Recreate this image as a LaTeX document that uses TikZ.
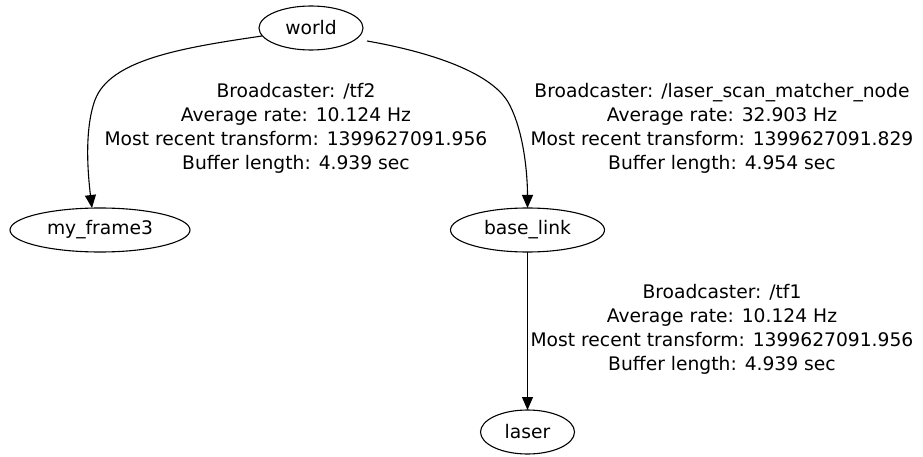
\documentclass[tikz,border=0pt]{standalone}
\usepackage{fontspec}
\setmainfont{DejaVu Sans}
\usetikzlibrary{arrows.meta}
\begin{document}
\begin{tikzpicture}[x=1pt,y=-1pt,
  outline/.style={line width=1.1pt},
  edge/.style={draw,line width=1.1pt,-{Triangle[length=13pt,width=11pt]}},
  info/.style={align=center,font=\fontsize{18.7}{24}\selectfont,inner sep=0pt},
  nodetext/.style={font=\fontsize{18.7}{24}\selectfont}]
\useasboundingbox (0,0) rectangle (923,457);
\fill[white] (0,0) rectangle (923,457);

% frames
\draw[outline] (311,28) ellipse [x radius=52, y radius=22];
\node[nodetext] (world) at (311,28) {world};
\draw[outline] (100,230) ellipse [x radius=90, y radius=22];
\node[nodetext] (myframe) at (100,230) {my\_frame3};
\draw[outline] (527.5,230) ellipse [x radius=77, y radius=22];
\node[nodetext] (base) at (527.5,230) {base\_link};
\draw[outline] (527.5,432) ellipse [x radius=47, y radius=22];
\node[nodetext] (laser) at (527.5,432) {laser};

% anchor points on the ellipse outlines
\coordinate (worldW) at (262,36);
\coordinate (worldE) at (367,41);
\coordinate (myframeN) at (92,208);
\coordinate (baseN) at (527.5,208);
\coordinate (baseS) at (527.5,252);
\coordinate (laserN) at (527.5,410);

% transforms
\draw[edge] (worldW) .. controls (180,48) and (110,60) .. (95,100)
  .. controls (84,130) and (88,175) .. (myframeN);
\draw[edge] (worldE) .. controls (430,52) and (490,72) .. (508,102)
  .. controls (524,130) and (527.5,175) .. (baseN);
\draw[edge] (baseS) -- (laserN);

% transform statistics
\node[info] (tfTwo) at (296,128) {Broadcaster: /tf2\\Average rate: 10.124 Hz\\Most recent transform: 1399627091.956\\Buffer length: 4.939 sec};
\node[info] (scanMatcher) at (722,128) {Broadcaster: /laser\_scan\_matcher\_node\\Average rate: 32.903 Hz\\Most recent transform: 1399627091.829\\Buffer length: 4.954 sec};
\node[info] (tfOne) at (722,329) {Broadcaster: /tf1\\Average rate: 10.124 Hz\\Most recent transform: 1399627091.956\\Buffer length: 4.939 sec};
\end{tikzpicture}
\end{document}
